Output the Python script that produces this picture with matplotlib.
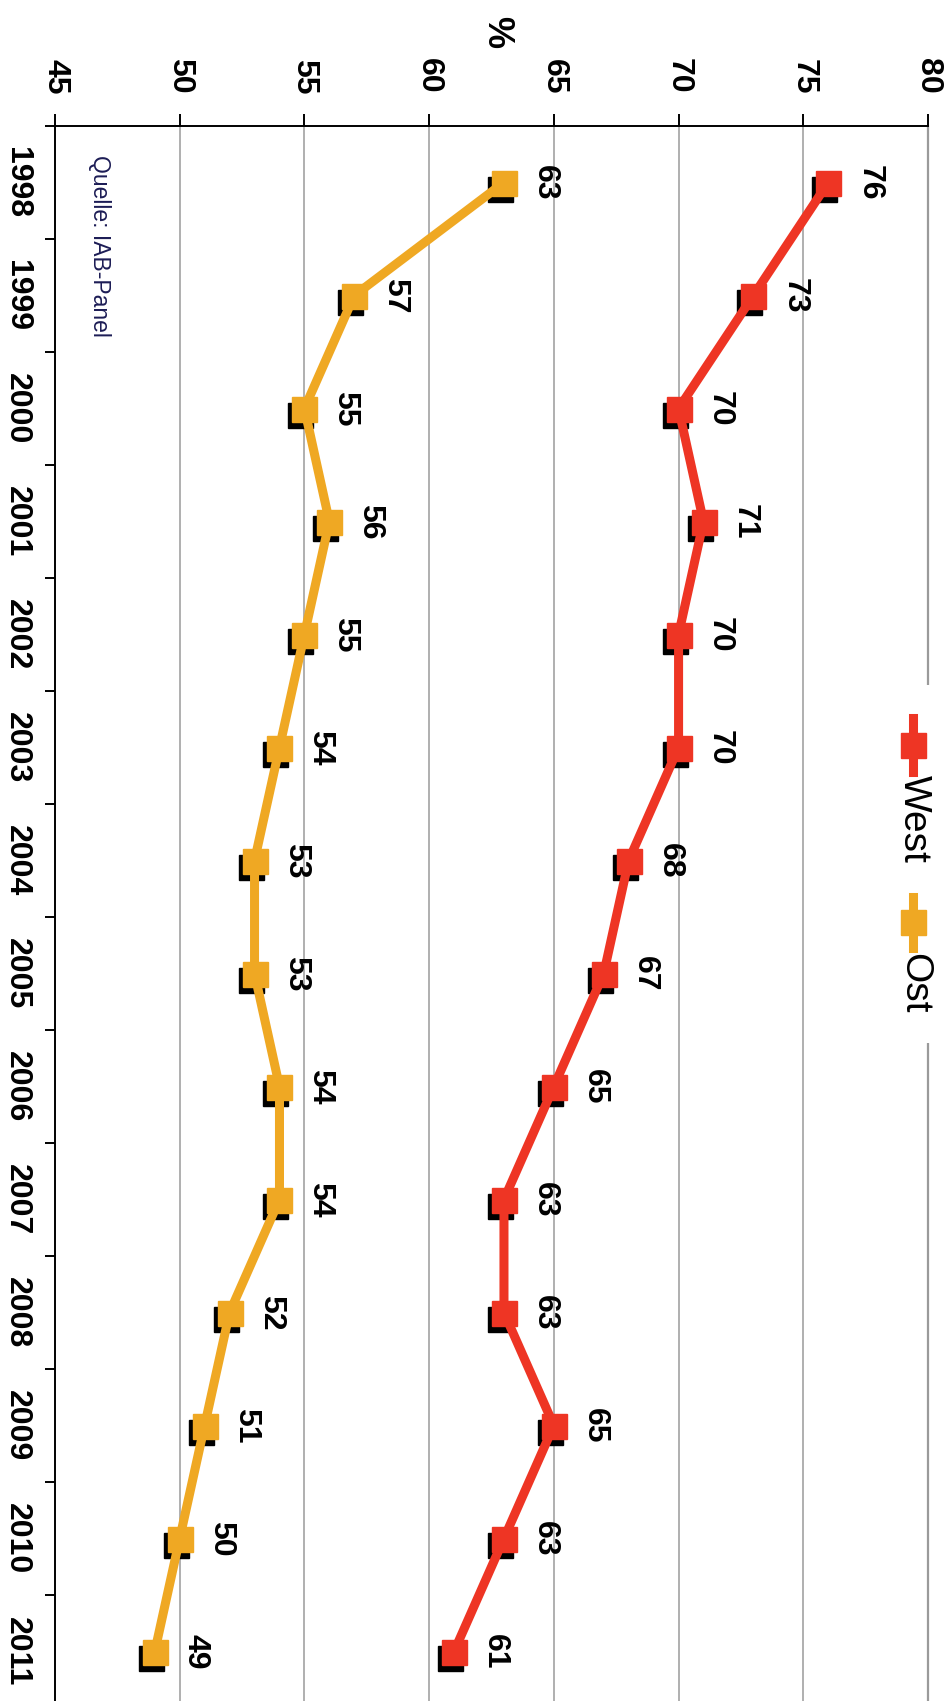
import matplotlib
matplotlib.use("Agg")
import matplotlib.pyplot as plt
from matplotlib.lines import Line2D
from matplotlib.patches import Rectangle
import matplotlib.transforms as mtransforms

years = ["1998", "1999", "2000", "2001", "2002", "2003", "2004",
         "2005", "2006", "2007", "2008", "2009", "2010", "2011"]
west = [76, 73, 70, 71, 70, 70, 68, 67, 65, 63, 63, 65, 63, 61]
ost = [63, 57, 55, 56, 55, 54, 53, 53, 54, 54, 52, 51, 50, 49]
pct_ticks = [45, 50, 55, 60, 65, 70, 75, 80]
series_names = ["West", "Ost"]

RED = "#EE3524"
ORANGE = "#EFA823"
FONT = "Liberation Sans"

W, H = 952, 1701
fig = plt.figure(figsize=(W / 100, H / 100), dpi=100)
plt.rcParams["font.family"] = [FONT, "DejaVu Sans"]


def fx(px):
    return px / W


def fy(py):
    return 1 - py / H


left_px, right_px, top_px = 55, 928, 126
band = 113
bottom_px = top_px + band * len(years)
ax = fig.add_axes([fx(left_px), fy(bottom_px), (right_px - left_px) / W,
                   (bottom_px - top_px) / H])

ypos = list(range(len(years)))
ax.set_xlim(45, 80)
ax.set_ylim(len(years) - 0.5, -0.5)

# gridlines (manual 80 line broken by legend below)
for v in pct_ticks[1:-1]:
    ax.axvline(v, color="#9a9a9a", lw=1.1, zorder=1)

# shadows of markers
shadow = mtransforms.offset_copy(ax.transData, fig=fig, x=-4, y=-6, units="dots")
for vals in (west, ost):
    ax.plot(vals, ypos, ls="none", marker="s", ms=18, color="black",
            mec="black", transform=shadow, zorder=3)

for vals, col in ((west, RED), (ost, ORANGE)):
    ax.plot(vals, ypos, color=col, lw=6.5, zorder=4, solid_joinstyle="round")
    ax.plot(vals, ypos, ls="none", marker="s", ms=18, color=col, mec=col,
            zorder=5)
    for v, y in zip(vals, ypos):
        ax.annotate(str(v), (v, y), xytext=(41, 0), textcoords="offset pixels",
                    ha="center", va="center", rotation=-90, fontsize=23,
                    fontweight="bold", family=FONT, zorder=6)

# spines
for s in ("right", "bottom"):
    ax.spines[s].set_visible(False)
for s in ("top", "left"):
    ax.spines[s].set_linewidth(1.4)
    ax.spines[s].set_color("black")

# 80 gridline with gap for legend
ax.plot([80, 80], [-0.5, (685 - top_px) / band - 0.5], color="#9a9a9a",
        lw=1.6, clip_on=False, zorder=1)
ax.plot([80, 80], [(1043 - top_px) / band - 0.5, len(years) - 0.5],
        color="#9a9a9a", lw=1.6, clip_on=False, zorder=1)

ax.xaxis.tick_top()
ax.set_xticks(pct_ticks)
ax.set_xticklabels([str(t) for t in pct_ticks], rotation=-90, fontsize=23,
                   fontweight="bold", family=FONT)
ax.tick_params(axis="x", which="major", length=9, width=1.4, pad=14,
               direction="out", top=True, bottom=False)

ax.set_yticks(ypos)
ax.set_yticklabels(years, rotation=-90, fontsize=23, fontweight="bold",
                   family=FONT, va="center")
ax.set_yticks([y - 0.5 for y in range(len(years) + 1)], minor=True)
ax.tick_params(axis="y", which="major", length=0, pad=16.5)
ax.tick_params(axis="y", which="minor", length=7, width=1.4, direction="out")

# % label
fig.text(fx(497), fy(32), "%", rotation=-90, ha="center", va="center",
         fontsize=26, fontweight="bold", family=FONT)

# source
fig.text(fx(99), fy(155), "Quelle: IAB-Panel", rotation=-90, ha="center",
         va="top", fontsize=16.5, color="#1c1c55", family=FONT)

# legend (manual, rotated)
fig.patches.append(Rectangle((fx(885), fy(1043)), fx(67), (1043 - 685) / H,
                             transform=fig.transFigure, facecolor="white",
                             edgecolor="none", zorder=2))
leg_items = [(series_names[0], RED, 718, 772, 775),
             (series_names[1], ORANGE, 897, 948, 953)]
for name, col, y0, y1, ytxt in leg_items:
    fig.add_artist(Line2D([fx(912.5), fx(912.5)], [fy(y0), fy(y1)],
                          transform=fig.transFigure, color=col, lw=6.5,
                          zorder=3))
    fig.add_artist(Line2D([fx(912.5)], [fy((y0 + y1) / 2)],
                          transform=fig.transFigure, ls="none", marker="s",
                          ms=18, color=col, mec=col, zorder=3))
    fig.text(fx(914), fy(ytxt), name, rotation=-90, ha="center", va="top",
             fontsize=28, family=FONT, zorder=4)

fig.savefig("out.png", dpi=100)
